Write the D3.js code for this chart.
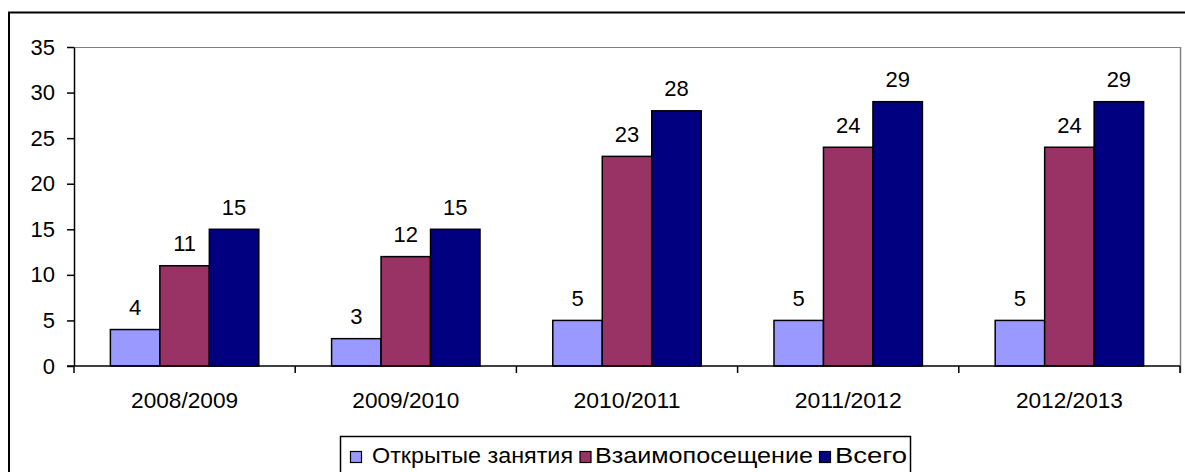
<!DOCTYPE html>
<html><head><meta charset="utf-8">
<script src="https://cdn.jsdelivr.net/npm/d3@7"></script>
<style>
body{margin:0;background:#fff}
svg{display:block}
text{font-family:"Liberation Sans",Arial,sans-serif;fill:#000}
</style>
</head><body>
<svg id="c" width="1185" height="472"></svg>
<script>
const categories = ["2008/2009","2009/2010","2010/2011","2011/2012","2012/2013"];
const seriesNames = ["Открытые занятия","Взаимопосещение","Всего"];
const openLessons = [4,3,5,5,5];
const mutualVisits = [11,12,23,24,24];
const total = [15,15,28,29,29];
const yTicks = [0,5,10,15,20,25,30,35];
const colors = ["#9999FF","#993366","#000080"];

const seriesValues = [openLessons, mutualVisits, total];
const svg = d3.select("#c");
const L = 74, R = 1180, T = 47, B = 366;
const fs = "22px";

// outer frame
svg.append("rect").attr("x",9).attr("y",12.5).attr("width",1200).attr("height",500)
  .attr("fill","none").attr("stroke","#000").attr("stroke-width",2);

const x = d3.scaleBand().domain(categories).range([L,R]).paddingInner(0.329).paddingOuter(0.1645);
const xs = d3.scaleBand().domain(seriesNames).range([0,x.bandwidth()]);
const y = d3.scaleLinear().domain([0,35]).range([B,T]);

// plot area border (top & right)
svg.append("line").attr("x1",L).attr("x2",R).attr("y1",T+0.5).attr("y2",T+0.5).attr("stroke","#808080").attr("stroke-width",1.2);
svg.append("line").attr("x1",R+0.5).attr("x2",R+0.5).attr("y1",T).attr("y2",B+7).attr("stroke","#808080").attr("stroke-width",1.5);

// bars
const data = [];
categories.forEach((c,i)=>seriesNames.forEach((s,j)=>data.push({c,s,j,v:seriesValues[j][i]})));
svg.append("g").selectAll("rect").data(data).join("rect")
  .attr("x",d=>x(d.c)+xs(d.s))
  .attr("y",d=>y(d.v))
  .attr("width",xs.bandwidth())
  .attr("height",d=>B-y(d.v))
  .attr("fill",d=>colors[d.j])
  .attr("stroke","#000").attr("stroke-width",1.5);

// value labels
svg.append("g").selectAll("text").data(data).join("text")
  .attr("x",d=>x(d.c)+xs(d.s)+xs.bandwidth()/2)
  .attr("y",d=>y(d.v)-14.5)
  .attr("text-anchor","middle").style("font-size",fs)
  .text(d=>d.v);

// y axis
const ya = svg.append("g").attr("transform",`translate(${L},0)`)
  .call(d3.axisLeft(y).tickValues(yTicks).tickSize(7).tickPadding(12).tickSizeOuter(0));
ya.selectAll("text").style("font-size",fs).attr("font-family",null);
ya.selectAll("line,path").attr("stroke","#000").attr("stroke-width",1.5);

// x axis
svg.append("line").attr("x1",L-7).attr("x2",R).attr("y1",B).attr("y2",B).attr("stroke","#000").attr("stroke-width",1.5);
const bounds = categories.map(c=>x(c)-x.step()*x.paddingInner()/2).concat([R]);
svg.append("g").selectAll("line").data(bounds).join("line")
  .attr("x1",d=>d).attr("x2",d=>d).attr("y1",B).attr("y2",B+7)
  .attr("stroke","#000").attr("stroke-width",1.5);
const xa = svg.append("g").attr("transform",`translate(0,${B})`)
  .call(d3.axisBottom(x).tickSize(0).tickPadding(26));
xa.select(".domain").remove();
xa.selectAll("text").style("font-size",fs).attr("font-family",null)
  .attr("textLength",107).attr("lengthAdjust","spacingAndGlyphs");

// legend
svg.append("rect").attr("x",340.5).attr("y",436.5).attr("width",570).attr("height",60)
  .attr("fill","#fff").attr("stroke","#000").attr("stroke-width",1.5);
const legPos = [{sx:350,tx:372,w:201},{sx:579.5,tx:595,w:218},{sx:819,tx:835,w:72}];
const lg = svg.append("g").selectAll("g").data(seriesNames).join("g");
lg.append("rect")
  .attr("x",(d,i)=>legPos[i].sx+0.5).attr("y",451.5).attr("width",11).attr("height",11)
  .attr("fill",(d,i)=>colors[i]).attr("stroke","#000").attr("stroke-width",1.2);
lg.append("text")
  .attr("x",(d,i)=>legPos[i].tx).attr("y",463)
  .attr("textLength",(d,i)=>legPos[i].w).attr("lengthAdjust","spacingAndGlyphs")
  .style("font-size",fs).text(d=>d);
</script>
</body></html>
